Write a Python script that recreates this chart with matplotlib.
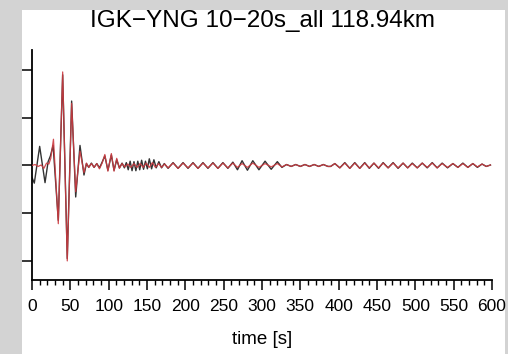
import matplotlib
matplotlib.use("Agg")
import matplotlib.pyplot as plt
from matplotlib.patches import Rectangle
from matplotlib.ticker import MultipleLocator, NullFormatter

plt.rcParams['font.family'] = ['Liberation Sans', 'DejaVu Sans']

title = "IGK\u2212YNG 10\u221220s_all 118.94km"
xlabel = "time [s]"
xticks = [0, 50, 100, 150, 200, 250, 300, 350, 400, 450, 500, 550, 600]
yticks = [-2, -1, 0, 1, 2]

# observed trace (black): times [s] and amplitudes
obs_t = [0, 3, 10, 17, 21, 24, 27.5, 34.3, 40, 46, 51.7, 57, 62.6, 67.8, 71,
         74, 77.5, 81, 84.5, 88, 91.5, 95, 99, 103.5, 107, 110.5, 114, 117.5,
         120.5, 123, 125.5, 128, 130.5, 133, 135.5, 138, 140.5, 143, 145.5, 148,
         150.5, 153, 156, 159, 162, 165.5, 169, 172.5,
         177.5, 184, 190.5, 197, 203.5, 210, 216.5, 223, 229.5, 236, 242.5, 249,
         255.5, 262,
         268, 274, 281, 288, 296, 304, 312, 320, 326,
         332, 338, 344, 350, 356, 362, 368, 374, 380, 386,
         389.5, 395, 401.5, 408, 414.5, 421, 427.5, 434, 440, 446, 452, 458,
         464.5, 471, 477.5, 484, 490, 496, 502.5, 509, 515.5, 522, 528.5, 535,
         542, 549, 555.5, 562, 568.5, 575, 581, 587, 592.5, 598]
obs_a = [-0.25, -0.37, 0.40, -0.36, 0.08, 0.20, 0.42, -1.15, 1.90, -1.95, 1.35, -0.66, 0.42, -0.20, 0.04,
         -0.04, 0.05, -0.04, 0.04, -0.05, 0.07, 0.20, -0.10, 0.22, -0.10, 0.12, -0.05, 0.05,
         -0.05, 0.06, -0.09, 0.09, -0.11, 0.08, -0.11, 0.09, -0.09, 0.11, -0.08, 0.09,
         -0.07, 0.14, -0.07, 0.12, -0.05, 0.08, -0.05, 0.04,
         -0.06, 0.06, -0.06, 0.06, -0.06, 0.06, -0.06, 0.06, -0.06, 0.06, -0.06, 0.06,
         -0.06, 0.07,
         -0.09, 0.10, -0.10, 0.10, -0.09, 0.09, -0.08, 0.08, -0.04,
         0.02, -0.02, 0.02, -0.02, 0.02, -0.02, 0.02, -0.02, 0.02, -0.02,
         -0.02, 0.04, -0.05, 0.06, -0.06, 0.06, -0.06, 0.06, -0.06, 0.05, -0.06, 0.06,
         -0.05, 0.06, -0.06, 0.05, -0.05, 0.05, -0.05, 0.05, -0.05, 0.06, -0.05, 0.05,
         -0.05, 0.04, -0.04, 0.05, -0.04, 0.04, -0.04, 0.03, -0.02, 0.01]

# synthetic trace (red): times [s] and amplitudes
syn_t = [0, 4, 8, 12, 15.5, 19, 22, 24.5, 28, 34.3, 40, 46, 51.7, 57, 62.6, 67.8, 71,
         74, 77.5, 81, 84.5, 88, 91.5, 95, 99, 103.5, 107, 110.5, 114, 117.5,
         121, 125, 129, 133, 137, 141, 145, 149, 153, 157, 161, 165, 169, 173,
         177.5, 184, 190.5, 197, 203.5, 210, 216.5, 223, 229.5, 236, 242.5, 249,
         255.5, 262,
         268, 274, 281, 288, 296, 304, 312, 320, 326,
         332, 338, 344, 350, 356, 362, 368, 374, 380, 386,
         389.5, 395, 401.5, 408, 414.5, 421, 427.5, 434, 440, 446, 452, 458,
         464.5, 471, 477.5, 484, 490, 496, 502.5, 509, 515.5, 522, 528.5, 535,
         542, 549, 555.5, 562, 568.5, 575, 581, 587, 592.5, 598]
syn_a = [0.0, 0.02, -0.02, 0.01, -0.06, 0.05, 0.03, 0.15, 0.55, -1.22, 1.96, -2.00, 1.30, -0.55, 0.30, -0.15, 0.05,
         -0.04, 0.04, -0.04, 0.04, -0.07, 0.05, 0.23, -0.12, 0.25, -0.12, 0.15, -0.06, 0.04,
         -0.03, 0.03, -0.04, 0.04, -0.04, 0.04, -0.04, 0.05, -0.04, 0.06, -0.04, 0.04, -0.04, 0.03,
         -0.05, 0.05, -0.06, 0.05, -0.05, 0.05, -0.06, 0.05, -0.05, 0.05, -0.06, 0.05,
         -0.05, 0.05,
         -0.04, 0.04, -0.04, 0.05, -0.04, 0.04, -0.03, 0.04, -0.03,
         0.02, -0.02, 0.02, -0.02, 0.02, -0.02, 0.02, -0.02, 0.02, -0.02,
         -0.02, 0.04, -0.05, 0.05, -0.06, 0.05, -0.06, 0.05, -0.05, 0.05, -0.05, 0.05,
         -0.05, 0.05, -0.05, 0.05, -0.05, 0.04, -0.05, 0.05, -0.04, 0.05, -0.05, 0.04,
         -0.04, 0.04, -0.04, 0.04, -0.04, 0.04, -0.03, 0.03, -0.02, 0.01]

W, H = 508, 354
fig = plt.figure(figsize=(W / 100, H / 100), dpi=100)
fig.patch.set_facecolor('#d3d3d3')
fig.add_artist(Rectangle((22 / W, 0), (505 - 22) / W, (H - 10) / H,
                         transform=fig.transFigure, facecolor='white',
                         edgecolor='none', zorder=0))

ax = fig.add_axes([32 / W, (H - 280) / H, (492 - 32) / W, (280 - 50) / H])
ax.set_facecolor('none')
ax.plot(obs_t, obs_a, color='#333333', lw=1.0, zorder=2, solid_joinstyle='round')
ax.plot(syn_t, syn_a, color='#cc3a40', lw=0.9, alpha=0.9, zorder=3, solid_joinstyle='round')

ax.set_xlim(0, 600)
ax.set_ylim(-2.4, 2.42)
ax.set_xticks(xticks)
ax.set_xticklabels([str(v) for v in xticks])
ax.xaxis.set_minor_locator(MultipleLocator(10))
ax.set_yticks(yticks)
ax.yaxis.set_major_formatter(NullFormatter())
for s in ['top', 'right']:
    ax.spines[s].set_visible(False)
for s in ['left', 'bottom']:
    ax.spines[s].set_linewidth(1.3)
ax.tick_params(axis='x', which='major', direction='out', length=7, width=1.1,
               labelsize=12.5, pad=7)
ax.tick_params(axis='x', which='minor', direction='out', length=3.5, width=1.0)
ax.tick_params(axis='y', which='major', direction='out', length=7, width=1.1)

fig.text(262 / W, 1 - 21.5 / H, title, ha='center', va='center', fontsize=17.5)
fig.text(262 / W, 1 - 340 / H, xlabel, ha='center', va='center', fontsize=13.5)

fig.savefig('out.png', dpi=100, facecolor=fig.get_facecolor())
